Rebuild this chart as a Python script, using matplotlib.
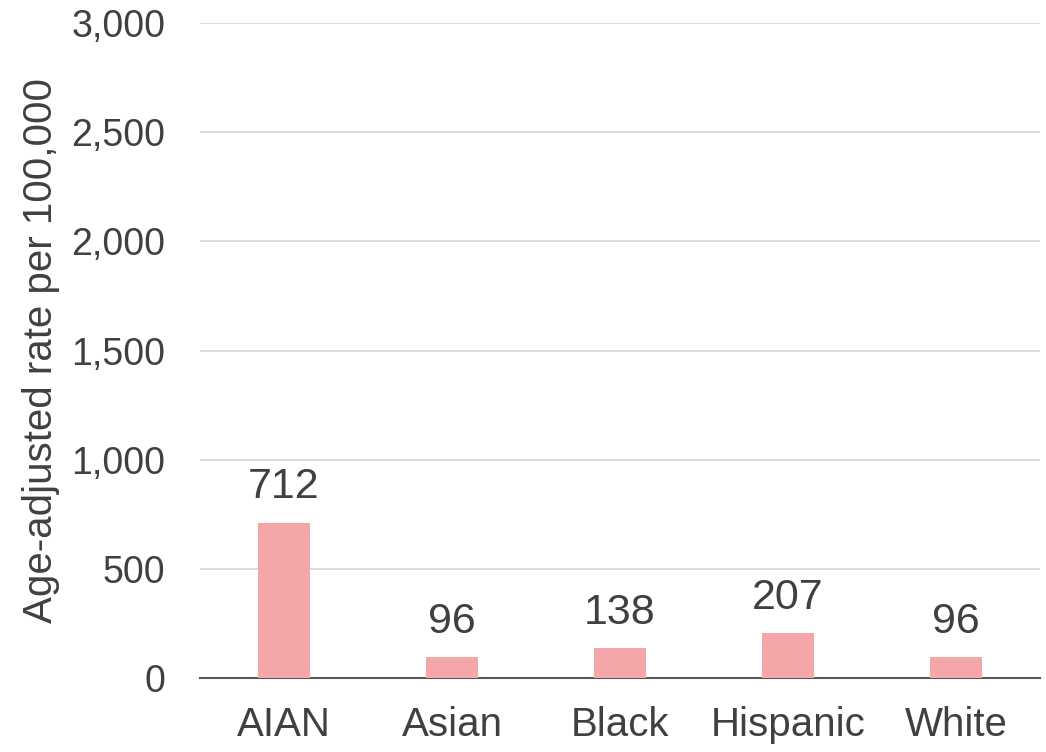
"""
Age-adjusted rate per 100,000 by race/ethnicity
"""
import matplotlib
matplotlib.use("Agg")
import matplotlib.pyplot as plt
import numpy as np

categories = ["AIAN", "Asian", "Black", "Hispanic", "White"]
rates = [712, 96, 138, 207, 96]
yticks = [0, 500, 1000, 1500, 2000, 2500, 3000]

plt.rcParams["font.family"] = ["Liberation Sans", "DejaVu Sans"]
text_color = "#404040"

fig = plt.figure(figsize=(10.46, 7.52), dpi=100)
ax = fig.add_axes([200 / 1046, 1 - 678 / 752, 840 / 1046, 655 / 752])

x = np.arange(len(categories))
bars = ax.bar(x, rates, width=0.31, color="#F4A6A9", zorder=3)

for xi, v in zip(x, rates):
    ax.text(xi, v + 70, f"{v:,}", ha="center", va="bottom",
            fontsize=31, color=text_color)

ax.set_xlim(-0.5, len(categories) - 0.5)
ax.set_ylim(0, 3000)
ax.set_yticks(yticks)
ax.set_yticklabels([f"{t:,}" for t in yticks])
ax.set_xticks(x)
ax.set_xticklabels(categories)

ax.yaxis.grid(True, color="#D9D9D9", linewidth=1.3, zorder=0)
ax.set_axisbelow(True)
for s in ["top", "right", "left"]:
    ax.spines[s].set_visible(False)
ax.spines["bottom"].set_color("#595959")
ax.spines["bottom"].set_linewidth(1.5)
ax.tick_params(axis="both", length=0, colors=text_color)
ax.tick_params(axis="y", pad=25, labelsize=27)
ax.tick_params(axis="x", pad=20, labelsize=29)

ax.set_ylabel("Age-adjusted rate per 100,000", fontsize=29, color=text_color,
              labelpad=8)

fig.savefig("out.png", dpi=100)
